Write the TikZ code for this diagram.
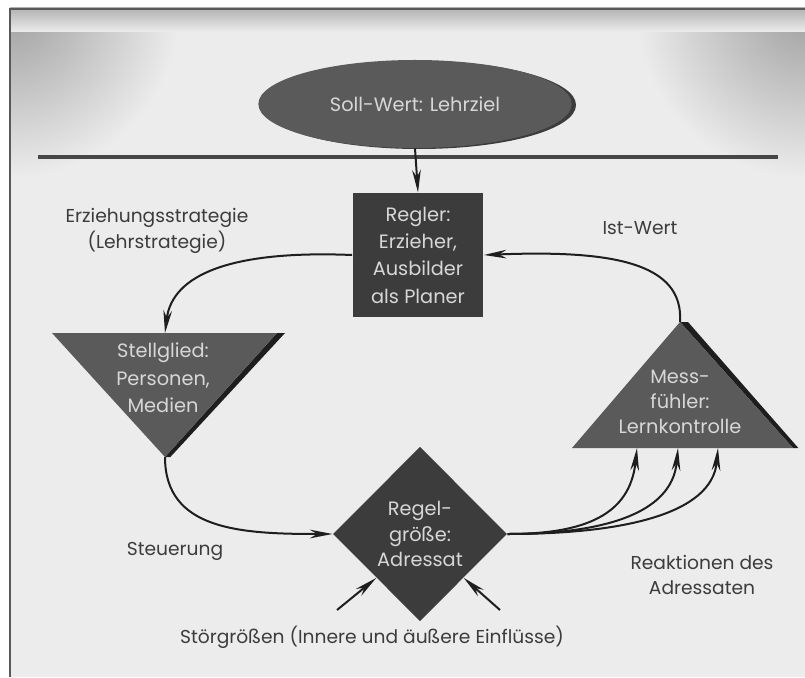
\documentclass[tikz,border=0pt]{standalone}
\usepackage{fontspec}
\setmainfont{Poppins}
\usetikzlibrary{arrows.meta,shapes.geometric}

\definecolor{paper}{RGB}{236,236,236}
\definecolor{shapegray}{RGB}{90,90,90}
\definecolor{darkbox}{RGB}{60,60,60}
\definecolor{shadowgray}{RGB}{30,30,30}
\definecolor{inktext}{RGB}{215,215,215}
\definecolor{labelgray}{RGB}{60,60,60}

\tikzset{every picture/.style={line width=0.75pt}}
\tikzset{
  shapetext/.style={text=inktext, align=center, inner sep=0.75pt, font=\fontsize{14.5}{19}\selectfont},
  widetext/.style={shapetext, font=\fontsize{14.5}{20.5}\selectfont},
  labeltext/.style={text=labelgray, align=center, inner sep=0.75pt, font=\fontsize{14}{19}\selectfont},
  conn/.style={draw=shadowgray, line width=1.5, -{Stealth[length=17pt,width=6.5pt]}},
}

\begin{document}
\begin{tikzpicture}[x=0.75pt,y=0.75pt,yscale=-1,xscale=1]
\useasboundingbox (0,0) rectangle (805,677);

%Background
\fill[paper] (10,8) rectangle (805,677);
\begin{scope}
  \clip (10,8) rectangle (805,677);
  \shade[inner color=gray!75, outer color=paper] (10,8) circle (170);
  \shade[inner color=gray!75, outer color=paper] (805,8) circle (170);
  \shade[top color=gray!60, bottom color=paper] (10,8) rectangle (805,32);
\end{scope}
\draw[gray!70!black, line width=2] (10,677) -- (10,9) -- (805,9);

%Straight Lines
\draw[gray!55!black, line width=2.5] (38,157) -- (778,157);

%Shape: Ellipse
\fill[darkbox] (419,105) ellipse (157 and 44);
\node (soll) at (415,104) [ellipse, fill=shapegray, minimum width=235pt, minimum height=66pt, shapetext] {Soll-Wert: Lehrziel};

%Shape: Rectangle
\node (regler) at (418,255) [rectangle, fill=darkbox, minimum width=98pt, minimum height=93pt, widetext] {Regler:\\Erzieher,\\Ausbilder\\als Planer};

%Shape: Triangle (Stellglied)
\coordinate (stellleft) at (52,333);
\coordinate (stellright) at (277,333);
\coordinate (stellapex) at (165,457);
\coordinate (stellin) at (165,333);
\fill[shadowgray] ([xshift=6]stellright) -- ([xshift=4]stellapex) -- (stellapex) -- (stellright) -- cycle;
\fill[shapegray] (stellleft) -- (stellright) -- (stellapex) -- cycle;
\node (stell) at (163,378) [widetext] {Stellglied:\\Personen,\\Medien};

%Shape: Triangle (Messfuehler)
\coordinate (messapex) at (680,322);
\coordinate (messleft) at (572,448);
\coordinate (messright) at (793,448);
\fill[shadowgray] (messapex) -- ([xshift=6]messapex) -- ([xshift=4]messright) -- (messright) -- cycle;
\fill[shapegray] (messapex) -- (messright) -- (messleft) -- cycle;
\node (mess) at (680,402) [shapetext] {Mess-\\fühler:\\Lernkontrolle};
\coordinate (messin1) at (637,448);
\coordinate (messin2) at (678,448);
\coordinate (messin3) at (718,448);

%Shape: Diamond
\node (regel) at (420,534) [diamond, fill=darkbox, minimum width=130.5pt, minimum height=131pt, inner sep=0pt, shapetext] {Regel-\\größe:\\Adressat};

%Curve Lines
\draw[conn] (soll.south) -- (regler.north);
\draw[conn] (regler.west) .. controls (230,250) and (172,275) .. (stellin);
\draw[conn] (stellapex) .. controls (165,530) and (240,534) .. (regel.west);
\draw[conn] (regel.east) .. controls (585,534) and (630,515) .. (messin1);
\draw[conn] (regel.east) .. controls (600,534) and (672,515) .. (messin2);
\draw[conn] (regel.east) .. controls (620,534) and (712,515) .. (messin3);
\draw[conn] (messapex) .. controls (684,262) and (610,250) .. (regler.east);

\coordinate (stoerleft) at (337,610);
\coordinate (stoerright) at (500,610);
\draw[conn] (stoerleft) -- (regel.south west);
\draw[conn] (stoerright) -- (regel.south east);

% Text Node
\node (strategie) at (157,231) [labeltext] {Erziehungsstrategie\\(Lehrstrategie)};
% Text Node
\node (istwert) at (640,228) [labeltext] {Ist-Wert};
% Text Node
\node (steuerung) at (175,551) [labeltext] {Steuerung};
% Text Node
\node (reaktionen) at (702,575) [labeltext] {Reaktionen des\\Adressaten};
% Text Node
\node (stoer) at (372,637) [labeltext] {Störgrößen (Innere und äußere Einflüsse)};

\end{tikzpicture}
\end{document}
